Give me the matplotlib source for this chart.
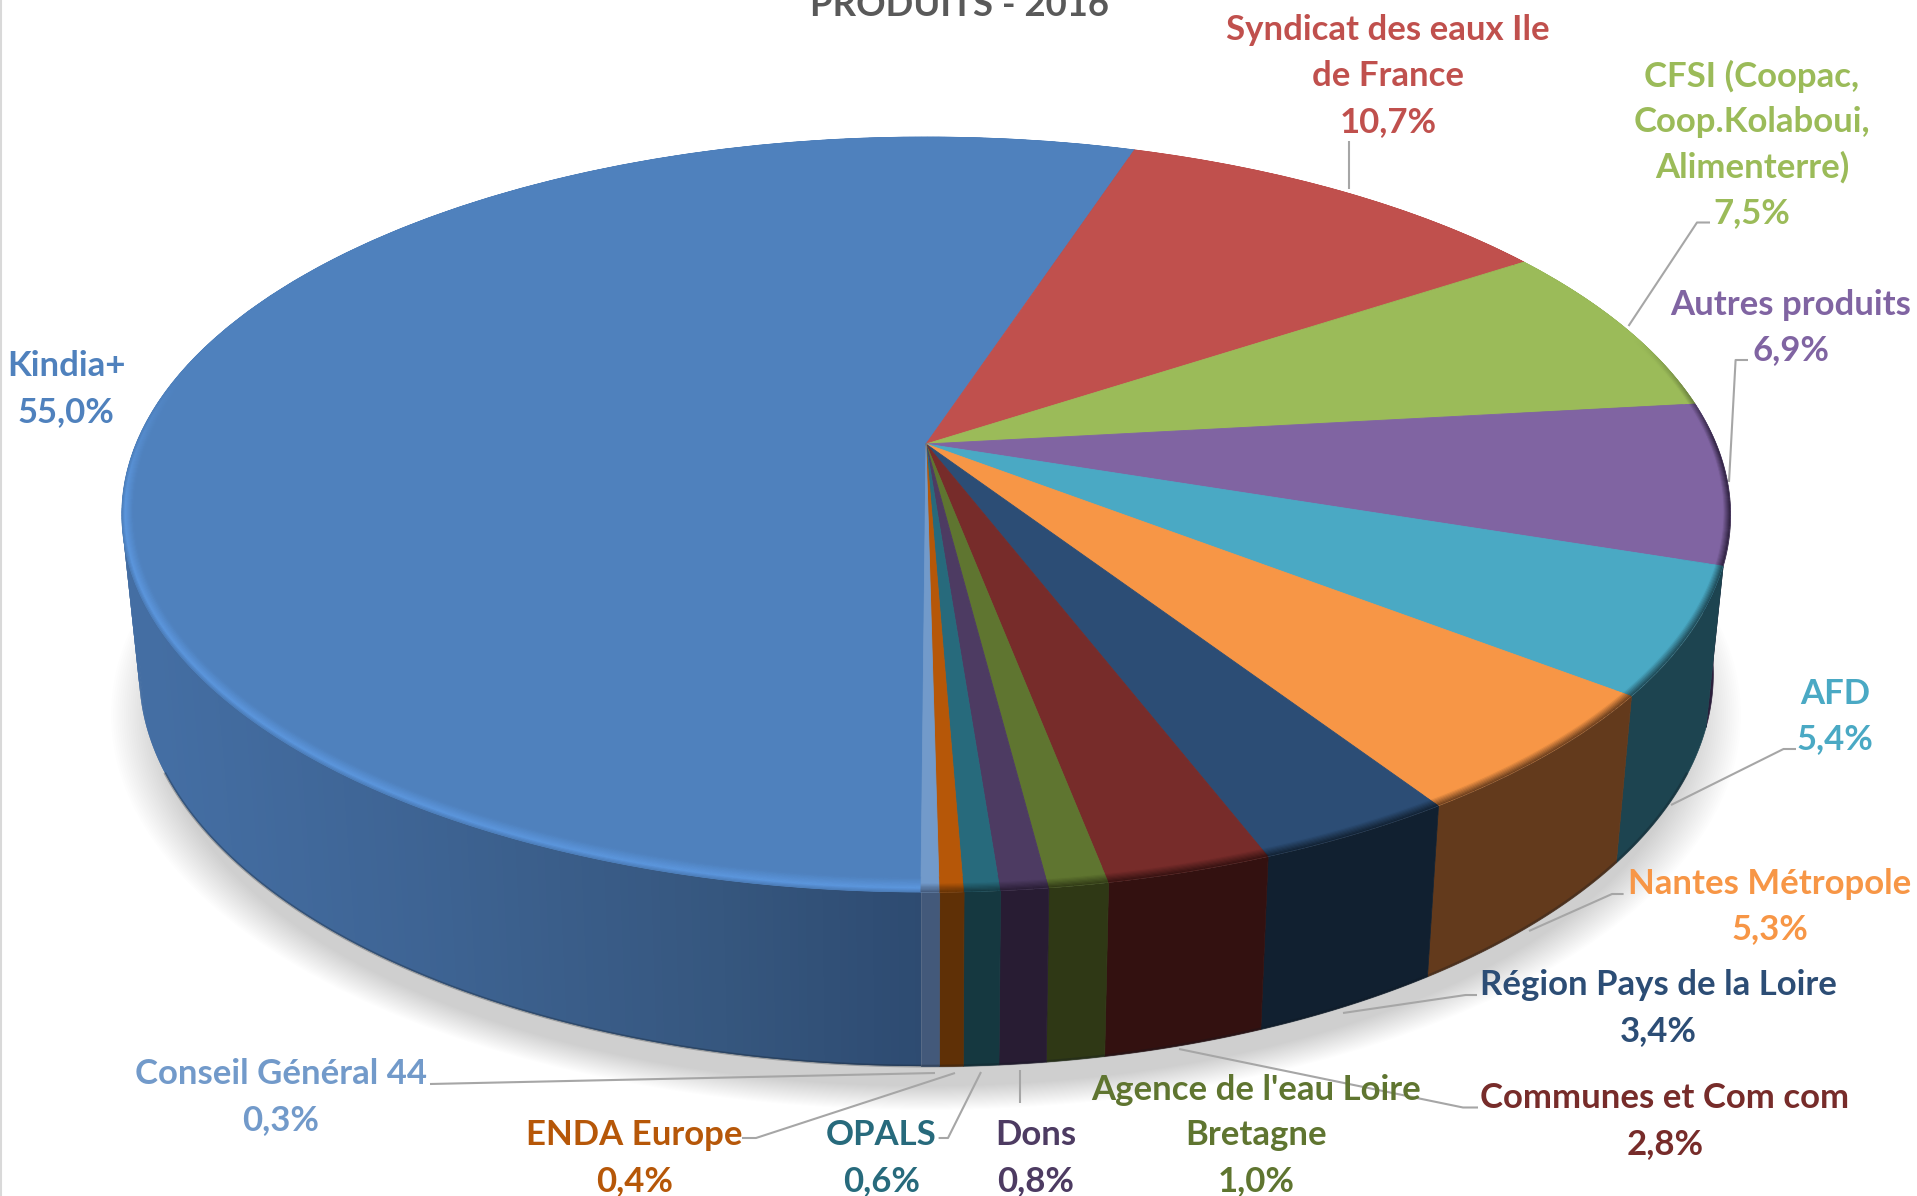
import numpy as np
import matplotlib
matplotlib.use("Agg")
import matplotlib.pyplot as plt
from matplotlib.transforms import Transform
from matplotlib.collections import PolyCollection
from matplotlib.colors import to_rgb
from matplotlib.patches import Ellipse

# ---------- data ----------
categories = ["Kindia+", "Syndicat des eaux Ile\nde France",
              "CFSI (Coopac,\nCoop.Kolaboui,\nAlimenterre)", "Autres produits",
              "AFD", "Nantes Métropole", "Région Pays de la Loire",
              "Communes et Com com", "Agence de l'eau Loire\nBretagne",
              "Dons", "OPALS", "ENDA Europe", "Conseil Général 44"]
values = [55.0, 10.7, 7.5, 6.9, 5.4, 5.3, 3.4, 2.8, 1.0, 0.8, 0.6, 0.4, 0.3]
title = "PRODUITS - 2016"

# ---------- styles ----------
top_colors = ["#4F81BD", "#C0504D", "#9BBB59", "#8064A2", "#4AA9C4", "#F79646", "#2C4D75",
              "#772C2A", "#5F7530", "#4D3B62", "#276A7C", "#B65708", "#729ACA"]
side_colors = ["#3A5F8C", "#5A2422", "#46552A", "#2A1E3A", "#1D4450", "#633A1C", "#112030",
               "#331110", "#2F3815", "#281C33", "#153840", "#5F3006", "#43597A"]
kindia_stops_x = [150, 400, 700, 925]
kindia_stops_c = ["#446EA3", "#3E6494", "#36577F", "#2D4A70"]
label_x = [66, 1388, 1752, 1791, 1835, 1770, 1658, 1665, 1256, 1035.5, 881.5, 634.5, 281]
label_y = [365, 29, 75, 303.6, 692.6, 882.6, 984, 1097, 1088.5, 1134, 1134, 1134, 1073]
leaders = [None,
           [(1348.5, 141), (1348.5, 189)],
           [(1628.5, 326), (1697, 222.5), (1710, 222.5)],
           [(1729, 482), (1735.6, 360), (1748, 360)],
           [(1671, 805), (1783.5, 749), (1796, 749)],
           [(1529, 931), (1612, 894), (1623.6, 894)],
           [(1343, 1013), (1465.6, 995), (1477, 995)],
           [(1179, 1049), (1463, 1107.5), (1478, 1107.5)],
           None,
           [(1020, 1070), (1020, 1103)],
           [(981, 1072), (948, 1138), (938.6, 1138)],
           [(955, 1073), (756, 1138), (742, 1138)],
           [(935, 1073), (430, 1084)]]
FONT = ["Lato", "DejaVu Sans"]
FS = 25
LINE_H = 45.8


class Persp(Transform):
    """Projects the unit pie disc onto the picture plane."""
    input_dims = output_dims = 2
    is_separable = False
    has_inverse = False

    def __init__(self, a, b, y0, c=0.18675, x0=926):
        super().__init__()
        self.p = (a, b, y0, c, x0)

    def transform_non_affine(self, v):
        v = np.asarray(v, float)
        a, b, y0, c, x0 = self.p
        d = 1 + c * v[:, 1]
        return np.column_stack((x0 + a * v[:, 0] / d, (y0 - b * v[:, 1]) / d))


TOP = (790.0, 281.4, 444.0)
BOT = (773.0, 267.0, 600.0)


def project(par, theta, r=1.0):
    t = np.radians(theta)
    return Persp(*par).transform_non_affine(np.column_stack((r * np.cos(t), r * np.sin(t))))


def mix(c1, c2, t):
    return tuple(np.array(c1) * (1 - t) + np.array(c2) * t)


fig = plt.figure(figsize=(19.17, 11.96), dpi=100)
ax = fig.add_axes([0, 0, 1, 1])

wedges, _ = ax.pie(values, colors=top_colors, startangle=269.7, counterclock=False, radius=1,
                   wedgeprops=dict(linewidth=0.6))
ax.set_aspect("auto")
ax.set_xlim(0, 1917)
ax.set_ylim(1196, 0)
ax.axis("off")

for w, col in zip(wedges, top_colors):
    w.set_transform(Persp(*TOP) + ax.transData)
    w.set_edgecolor(col)
    w.set_zorder(5)

# soft ground shadow
for s in np.linspace(1.0, 0.94, 24):
    ax.add_patch(Ellipse((926, 715), 2 * 815 * s, 2 * 395 * s, fc="k", ec="none", alpha=0.007, zorder=1))

# side wall + rim shading
for i, w in enumerate(wedges):
    th = np.arange(w.theta1, w.theta2, 0.5)
    th = np.append(th, w.theta2)
    t_pts, b_pts = project(TOP, th), project(BOT, th)
    if i == 0:
        quads, cols = [], []
        for k in range(len(th) - 1):
            m = min(k + 2, len(th) - 1)
            quads.append([t_pts[k], t_pts[m], b_pts[m], b_pts[k]])
            xm = t_pts[k][0]
            cols.append([np.interp(xm, kindia_stops_x, [to_rgb(s)[j] for s in kindia_stops_c]) for j in range(3)])
        ax.add_collection(PolyCollection(quads[::-1], facecolors=cols[::-1], edgecolors="none", zorder=3))
    else:
        poly = np.vstack((t_pts, b_pts[::-1]))
        ax.add_collection(PolyCollection([poly], facecolors=[side_colors[i]], edgecolors=[side_colors[i]],
                                         linewidths=0.5, zorder=3))

    # bevelled rim along the front edge, kept on the slice's own rays
    n_band = 12
    quads, cols = [], []
    y_circ = np.sin(np.radians(th))
    width = 0.014 + 0.013 * y_circ ** 2
    for b in range(n_band):
        t0, t1 = b / n_band, (b + 1) / n_band
        q0, q1 = project(TOP, th, 1 - width * t0), project(TOP, th, 1 - width * t1)
        tm = (t0 + t1) / 2
        for k in range(len(th) - 1):
            ym = y_circ[k]
            top = to_rgb(top_colors[i])
            if i == 0:
                strength = np.clip((0.2 - ym) / 0.35, 0, 1)
                bright = to_rgb("#5C97DE")
                if tm < 0.3:
                    c = mix(to_rgb("#4A7BB6"), bright, tm / 0.3)
                else:
                    c = mix(bright, top, (tm - 0.3) / 0.7)
            else:
                strength = np.clip((0.3 - ym) / 0.3, 0, 1)
                c = mix(to_rgb(side_colors[i]), top, np.clip(tm * 1.6, 0, 1))
            c = mix(top, c, strength)
            quads.append([q0[k], q0[k + 1], q1[k + 1], q1[k]])
            cols.append(c)
    ax.add_collection(PolyCollection(quads, facecolors=cols, edgecolors=cols, linewidths=0.4, zorder=6))

# dark lower edge of the wall
edge_th = np.linspace(205, 335, 261)
edge = project(BOT, edge_th)
ax.plot(edge[:, 0], edge[:, 1], color="#101820", alpha=0.28, lw=2.0, zorder=4)

# image border at far left
ax.plot([0.5, 0.5], [0, 1196], color="#D9D9D9", lw=1.5, zorder=2)

# leader lines
for ld in leaders:
    if ld is not None:
        xs, ys = zip(*ld)
        ax.plot(xs, ys, color="#A6A6A6", lw=1.5, zorder=7, solid_capstyle="butt")

# labels
for name, val, x, y, col in zip(categories, values, label_x, label_y, top_colors):
    lines = name.split("\n") + [f"{val:.1f}".replace(".", ",") + "%"]
    for j, ln in enumerate(lines):
        ax.text(x, y + 1 + j * LINE_H, ln, color=col, family=FONT, weight="bold", fontsize=FS,
                ha="center", va="center", zorder=8)

ax.text(960, 6, title, color="#595959", family=FONT, weight="bold", fontsize=26.3,
        ha="center", va="center", zorder=8)

fig.savefig("out.png", dpi=100)
